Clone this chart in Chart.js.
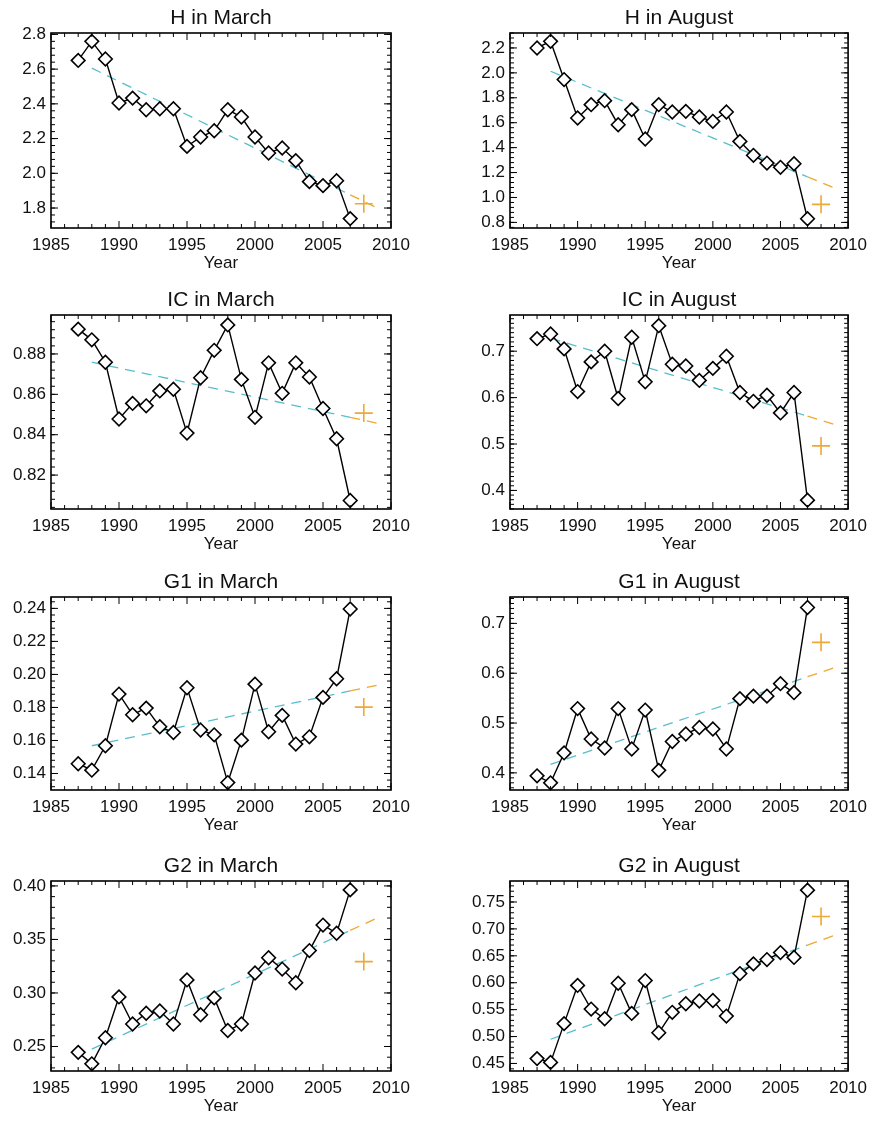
<!DOCTYPE html>
<html>
<head>
<meta charset="utf-8">
<script src="https://cdn.jsdelivr.net/npm/chart.js@4/dist/chart.umd.min.js"></script>
<style>
  body { margin: 0; background: #fff; }
  #wrap { position: relative; width: 874px; height: 1124px; }
  .panel { position: absolute; width: 437px; height: 281px; }
</style>
</head>
<body>
<div id="wrap"></div>
<script>
// ---- data ----
const years = [1987, 1988, 1989, 1990, 1991, 1992, 1993, 1994, 1995, 1996, 1997,
               1998, 1999, 2000, 2001, 2002, 2003, 2004, 2005, 2006, 2007];
const xTicks = [1985, 1990, 1995, 2000, 2005, 2010];

const titles = ['H in March', 'H in August', 'IC in March', 'IC in August',
                'G1 in March', 'G1 in August', 'G2 in March', 'G2 in August'];

const hMarch   = [2.650, 2.760, 2.658, 2.405, 2.433, 2.366, 2.372, 2.372, 2.155, 2.209, 2.245,
                  2.366, 2.324, 2.209, 2.117, 2.146, 2.073, 1.952, 1.929, 1.957, 1.739];
const hAugust  = [2.200, 2.253, 1.946, 1.638, 1.745, 1.777, 1.584, 1.705, 1.469, 1.745, 1.686,
                  1.691, 1.646, 1.611, 1.686, 1.450, 1.338, 1.276, 1.242, 1.271, 0.829];
const icMarch  = [0.8923, 0.8870, 0.8759, 0.8478, 0.8555, 0.8543, 0.8617, 0.8625, 0.8408, 0.8682, 0.8818,
                  0.8944, 0.8674, 0.8486, 0.8756, 0.8605, 0.8756, 0.8686, 0.8530, 0.8380, 0.8074];
const icAugust = [0.727, 0.737, 0.705, 0.613, 0.677, 0.700, 0.598, 0.730, 0.634, 0.755, 0.672,
                  0.668, 0.637, 0.663, 0.689, 0.611, 0.592, 0.605, 0.567, 0.611, 0.379];
const g1March  = [0.1459, 0.1420, 0.1568, 0.1881, 0.1756, 0.1796, 0.1683, 0.1648, 0.1919, 0.1663, 0.1634,
                  0.1345, 0.1602, 0.1941, 0.1653, 0.1752, 0.1578, 0.1622, 0.1861, 0.1974, 0.2396];
const g1August = [0.394, 0.380, 0.440, 0.529, 0.468, 0.450, 0.529, 0.448, 0.526, 0.405, 0.463,
                  0.478, 0.491, 0.488, 0.448, 0.549, 0.554, 0.554, 0.579, 0.561, 0.732];
const g2March  = [0.2445, 0.2338, 0.2582, 0.2963, 0.2710, 0.2811, 0.2832, 0.2710, 0.3122, 0.2796, 0.2954,
                  0.2649, 0.2710, 0.3186, 0.3329, 0.3223, 0.3095, 0.3396, 0.3634, 0.3558, 0.3963];
const g2August = [0.459, 0.452, 0.524, 0.595, 0.551, 0.533, 0.599, 0.543, 0.604, 0.507, 0.545,
                  0.561, 0.566, 0.567, 0.538, 0.617, 0.635, 0.643, 0.656, 0.647, 0.772];

// 2008 value (orange cross)
const forecastYear = 2008;
const forecast = [1.825, 0.945, 0.8507, 0.496, 0.1802, 0.662, 0.3293, 0.723];

// trend line values at 1988, 2007 (cyan ends / orange starts) and 2009
const trendYears = [1988, 2007, 2009];
const trends = [
  [2.606, 1.876, 1.800],
  [2.013, 1.165, 1.076],
  [0.8759, 0.8486, 0.8457],
  [0.728, 0.560, 0.542],
  [0.1568, 0.1900, 0.1935],
  [0.417, 0.593, 0.611],
  [0.2476, 0.3584, 0.3701],
  [0.495, 0.670, 0.688]
];

// y axis ranges and tick labels
const yRanges = [[1.685, 2.808], [0.755, 2.32], [0.8032, 0.8993], [0.360, 0.778],
                 [0.130, 0.2469], [0.3656, 0.753], [0.2271, 0.4046], [0.436, 0.789]];
const yTicks = [
  [1.8, 2.0, 2.2, 2.4, 2.6, 2.8],
  [0.8, 1.0, 1.2, 1.4, 1.6, 1.8, 2.0, 2.2],
  [0.82, 0.84, 0.86, 0.88],
  [0.4, 0.5, 0.6, 0.7],
  [0.14, 0.16, 0.18, 0.20, 0.22, 0.24],
  [0.4, 0.5, 0.6, 0.7],
  [0.25, 0.30, 0.35, 0.40],
  [0.45, 0.50, 0.55, 0.60, 0.65, 0.70, 0.75]
];
const yDecimals = [1, 1, 2, 1, 2, 1, 2, 2];
const yMinor = [0.04, 0.04, 0.004, 0.01, 0.004, 0.01, 0.01, 0.01];

const series = [hMarch, hAugust, icMarch, icAugust, g1March, g1August, g2March, g2August];

// ---- layout ----
const rowTop = [0, 1, 2, 5];
const FONT = "'Liberation Sans', Arial, Helvetica, sans-serif";
const CYAN = 'rgb(86,190,204)';
const ORANGE = 'rgb(238,168,52)';

// box + inward ticks, like IDL, and the title centred over the plot box
const framePlugin = {
  id: 'frame',
  afterDatasetsDraw(chart, args, opts) {
    const { ctx, chartArea: a, scales: { x, y } } = chart;
    ctx.save();
    ctx.strokeStyle = '#000';
    ctx.lineWidth = 1;
    ctx.beginPath();
    for (let v = 1985; v <= 2010; v++) {
      const px = x.getPixelForValue(v);
      const len = v % 5 === 0 ? 7 : 4;
      ctx.moveTo(px, a.bottom); ctx.lineTo(px, a.bottom - len);
      ctx.moveTo(px, a.top); ctx.lineTo(px, a.top + len);
    }
    const step = opts.minor;
    for (let k = Math.ceil(y.min / step - 1e-6); k * step <= y.max + 1e-9; k++) {
      const py = y.getPixelForValue(k * step);
      ctx.moveTo(a.left, py); ctx.lineTo(a.left + 4, py);
      ctx.moveTo(a.right, py); ctx.lineTo(a.right - 4, py);
    }
    opts.major.forEach(v => {
      const py = y.getPixelForValue(v);
      ctx.moveTo(a.left, py); ctx.lineTo(a.left + 7, py);
      ctx.moveTo(a.right, py); ctx.lineTo(a.right - 7, py);
    });
    ctx.stroke();
    ctx.lineWidth = 1.6;
    ctx.strokeRect(a.left, a.top, a.right - a.left, a.bottom - a.top);

    ctx.fillStyle = '#111';
    ctx.font = '21px ' + FONT;
    ctx.textAlign = 'center';
    ctx.textBaseline = 'middle';
    ctx.fillText(opts.title, (a.left + a.right) / 2, a.top - 15);
    ctx.restore();
  }
};

const wrap = document.getElementById('wrap');

series.forEach((vals, i) => {
  const col = i % 2, row = Math.floor(i / 2);
  const div = document.createElement('div');
  div.className = 'panel';
  div.style.left = (col * 437) + 'px';
  div.style.top = (row * 281) + 'px';
  const cv = document.createElement('canvas');
  cv.width = 437;
  cv.height = 281;
  div.appendChild(cv);
  wrap.appendChild(div);

  const tr = trends[i];
  new Chart(cv.getContext('2d'), {
    type: 'line',
    data: {
      datasets: [{
        data: years.map((yr, k) => ({ x: yr, y: vals[k] })),
        borderColor: '#000',
        borderWidth: 1.4,
        pointStyle: 'rectRot',
        pointRadius: 6.8,
        pointBackgroundColor: '#fff',
        pointBorderColor: '#000',
        pointBorderWidth: 1.6,
        tension: 0,
        clip: false
      }, {
        data: [{ x: forecastYear, y: forecast[i] }],
        showLine: false,
        pointStyle: 'cross',
        pointRadius: 9,
        pointBorderColor: ORANGE,
        pointBorderWidth: 1.6,
        clip: false
      }, {
        data: [{ x: trendYears[0], y: tr[0] }, { x: trendYears[1], y: tr[1] }],
        borderColor: CYAN,
        borderWidth: 1.3,
        borderDash: [10, 7],
        pointRadius: 0
      }, {
        data: [{ x: trendYears[1], y: tr[1] }, { x: trendYears[2], y: tr[2] }],
        borderColor: ORANGE,
        borderWidth: 1.3,
        borderDash: [10, 7],
        pointRadius: 0
      }]
    },
    options: {
      responsive: false,
      animation: false,
      maintainAspectRatio: false,
      layout: { padding: { left: 0, right: col === 0 ? 46 : 23, top: 33 + rowTop[row], bottom: 0 } },
      plugins: {
        legend: { display: false },
        tooltip: { enabled: false },
        title: { display: false },
        frame: { minor: yMinor[i], major: yTicks[i], title: titles[i] }
      },
      scales: {
        x: {
          type: 'linear',
          min: 1985,
          max: 2010,
          afterBuildTicks: s => { s.ticks = xTicks.map(v => ({ value: v })); },
          afterFit: s => { s.height = 53; },
          grid: { display: false, drawTicks: false },
          border: { display: false },
          ticks: {
            color: '#111',
            padding: 7,
            maxRotation: 0,
            autoSkip: false,
            font: { family: FONT, size: 17 },
            callback: v => String(v)
          },
          title: {
            display: true,
            text: 'Year',
            color: '#111',
            font: { family: FONT, size: 17 },
            padding: { top: 0, bottom: 7 }
          }
        },
        y: {
          min: yRanges[i][0],
          max: yRanges[i][1],
          afterBuildTicks: s => { s.ticks = yTicks[i].map(v => ({ value: v })); },
          afterFit: s => { s.width = col === 0 ? 51 : 73; },
          grid: { display: false, drawTicks: false },
          border: { display: false },
          ticks: {
            color: '#111',
            padding: 5,
            autoSkip: false,
            font: { family: FONT, size: 17 },
            callback: v => Number(v).toFixed(yDecimals[i])
          }
        }
      }
    },
    plugins: [framePlugin]
  });
});
</script>
</body>
</html>
